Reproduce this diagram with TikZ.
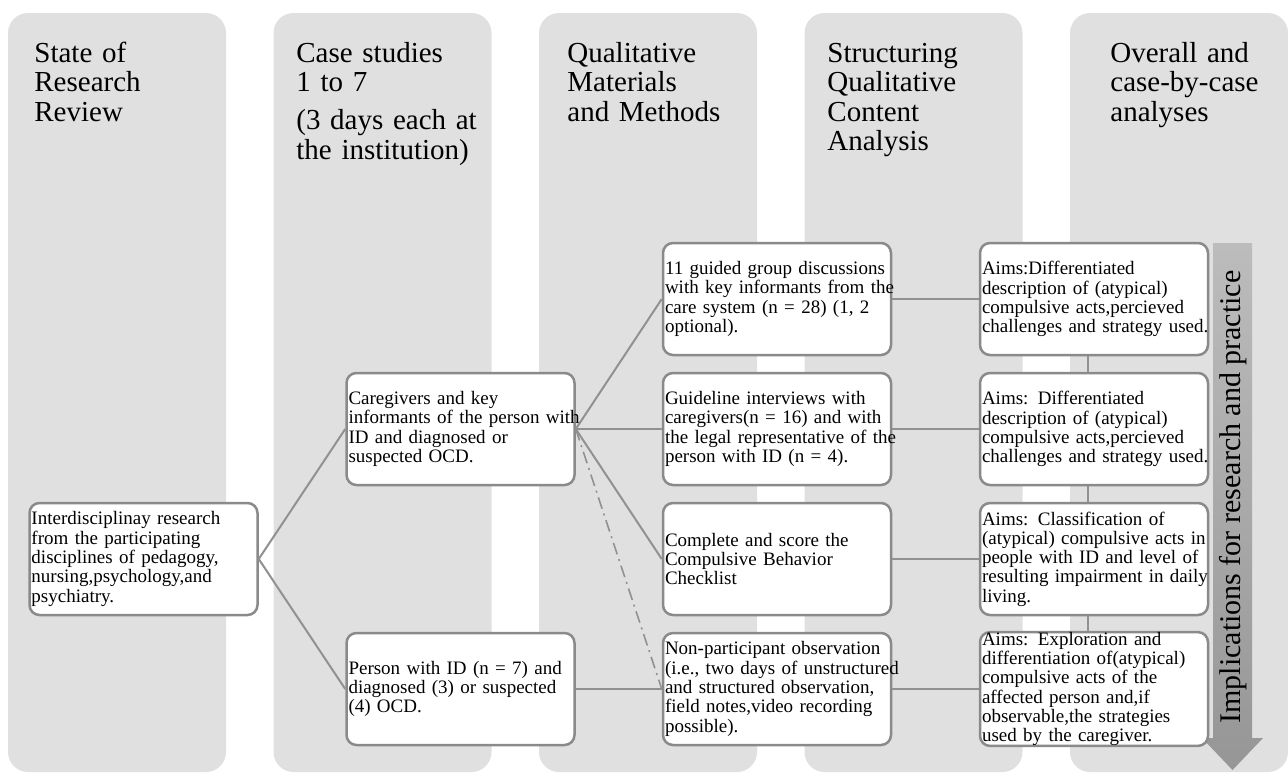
\documentclass[tikz,border=0pt]{standalone}
\usepackage{fontspec}
\setmainfont{Liberation Serif}
\usetikzlibrary{positioning}
\definecolor{colbg}{RGB}{224,224,224}
\definecolor{boxline}{RGB}{138,138,138}
\definecolor{linkgray}{RGB}{145,145,145}
\definecolor{arrtop}{RGB}{188,188,188}
\definecolor{arrbot}{RGB}{150,150,150}
\tikzset{colhead/.style = {anchor=base west, inner sep=0, text width=112pt, align=left, font=\fontsize{14.5}{14.75}\selectfont}}
\tikzset{box/.style = {draw=boxline, line width=1.25pt, fill=white, rounded corners=5pt, text width=112pt, inner xsep=1pt, inner ysep=0pt, minimum height=56pt, align=left, font=\fontsize{9.5}{9.65}\selectfont}}
\tikzset{link/.style = {draw=linkgray, line width=1pt}}

\begin{document}
\begin{tikzpicture}[x=0.5pt, y=-0.5pt]
    \useasboundingbox (0,0) rectangle (1288,773);

    % column backgrounds
    \foreach \x in {8, 273.5, 539, 804.5, 1070} {
      \fill [colbg, rounded corners=10pt] (\x, 13) rectangle ++(218, 759);
    }

    \node [colhead] (headA) at (34, 62) {State of\\Research\\Review};
    \node [colhead] (headB) at (296, 62) {Case studies\\1 to 7\\[4.25pt](3 days each at\\the institution)};
    \node [colhead] (headC) at (567, 62) {Qualitative\\Materials\\and Methods};
    \node [colhead] (headD) at (827, 62) {Structuring\\Qualitative\\Content\\Analysis};
    \node [colhead] (headE) at (1110, 62) {Overall and\\case-by-case\\analyses};

    % arrow on the right
    \shade [top color=arrtop, bottom color=arrbot] (1213, 243) -- (1252, 243) -- (1252, 738) -- (1263, 738) -- (1232.5, 770) -- (1202, 738) -- (1213, 738) -- cycle;
    \node [rotate=90, inner sep=0, font=\fontsize{15}{15}\selectfont] (implic) at (1233, 497) {Implications for research and practice};

    \node [box] (review) at (143.5, 559) {Interdisciplinay research\\from the participating\\disciplines of pedagogy,\\nursing,psychology,and\\psychiatry.};

    \node [box] (caregivers) at (460.5, 429) {Caregivers and key\\\mbox{informants of the person with}\\ID and diagnosed or\\suspected OCD.};
    \node [box] (person) at (460.5, 689) {Person with ID (n = 7) and\\diagnosed (3) or suspected\\(4) OCD.};

    \node [box] (groups) at (777, 299) {11 guided group discussions\\\mbox{with key informants from the}\\care system (n = 28) (1, 2\\optional).};
    \node [box] (interviews) at (777, 429) {Guideline interviews with\\caregivers(n = 16) and with\\\mbox{the legal representative of the}\\person with ID (n = 4).};
    \node [box] (checklist) at (777, 559) {Complete and score the\\Compulsive Behavior\\Checklist};
    \node [box] (observation) at (777, 689) {Non-participant observation\\\mbox{(i.e., two days of unstructured}\\and structured observation,\\field notes,video recording\\possible).};

    \node [box] (aimsA) at (1094, 299) {Aims:Differentiated\\description of (atypical)\\compulsive acts,percieved\\\mbox{challenges and strategy used.}};
    \node [box] (aimsB) at (1094, 429) {Aims: Differentiated\\description of (atypical)\\compulsive acts,percieved\\\mbox{challenges and strategy used.}};
    \node [box] (aimsC) at (1094, 559) {Aims: Classification of\\(atypical) compulsive acts in\\people with ID and level of\\\mbox{resulting impairment in daily}\\living.};
    \node [box] (aimsD) at (1094, 689) {Aims: Exploration and\\differentiation of(atypical)\\compulsive acts of the\\affected person and,if\\observable,the strategies\\used by the caregiver.};

    % connectors
    \draw [link] (review.east) -- (caregivers.west);
    \draw [link] (review.east) -- (person.west);
    \foreach \n in {groups, interviews, checklist} {
      \draw [link] (caregivers.east) -- (\n.west);
    }
    \draw [link, line width=0.8pt, dash pattern=on 6pt off 2.5pt on 1pt off 2.5pt] (caregivers.east) -- (observation.west);
    \draw [link] (person.east) -- (observation.west);
    \foreach \a/\b in {groups/aimsA, interviews/aimsB, checklist/aimsC, observation/aimsD} {
      \draw [link] (\a.east) -- (\b.west);
    }
    \foreach \a/\b in {aimsA/aimsB, aimsB/aimsC, aimsC/aimsD} {
      \draw [link] ([xshift=-3pt]\a.south) -- ([xshift=-3pt]\b.north);
    }
  \end{tikzpicture}
\end{document}
